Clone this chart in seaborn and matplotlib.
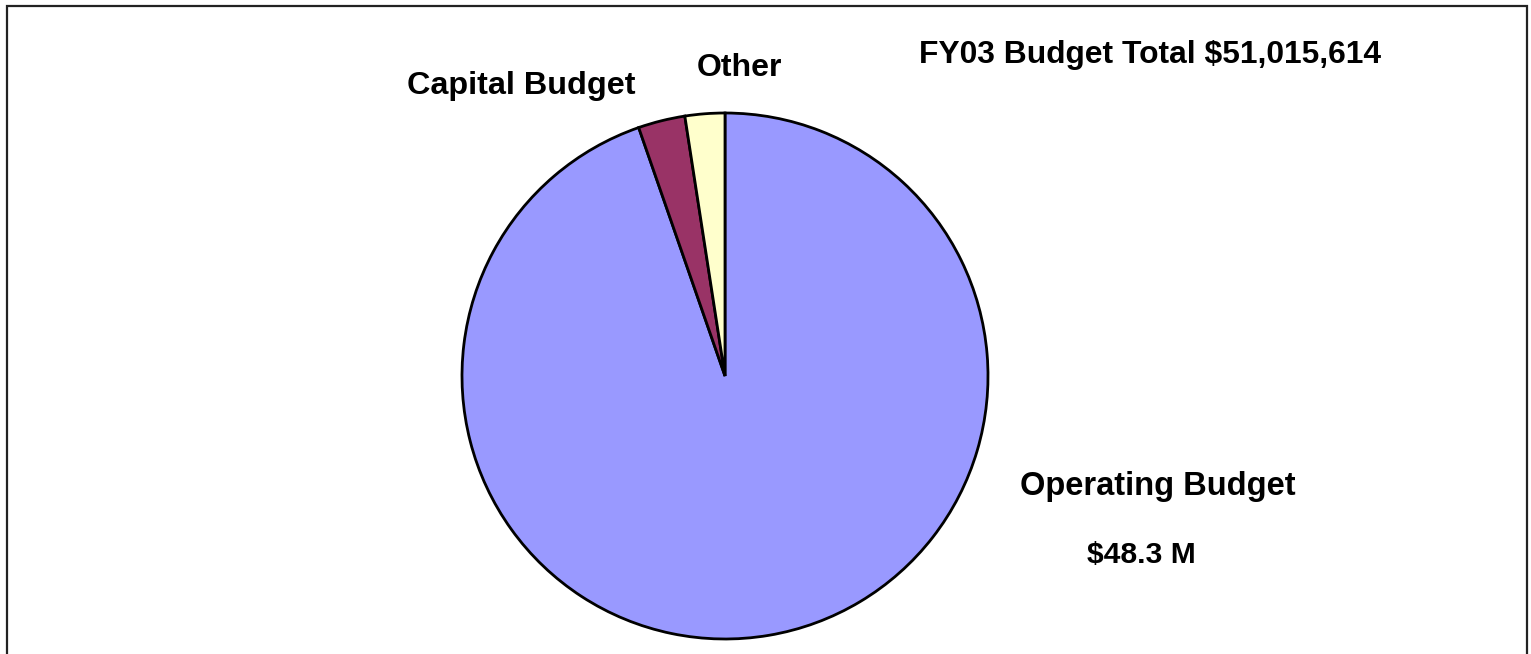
import matplotlib
matplotlib.use("Agg")
import matplotlib.pyplot as plt
from matplotlib.patches import Rectangle
import seaborn as sns

# Budget components, $ millions
categories = ["Operating Budget", "Capital Budget", "Other"]
values = [48.3, 1.47, 1.245]
colors = ["#9999FF", "#993366", "#FFFFCC"]
title_text = "FY03 Budget Total $51,015,614"
operating_amount = "$48.3 M"

sns.set_theme(style="white")
plt.rcParams["font.family"] = ["Liberation Sans", "DejaVu Sans"]

W, H = 1531, 654
fig = plt.figure(figsize=(W / 100, H / 100), dpi=100)
fig.patch.set_facecolor("white")
ax = fig.add_axes([0, 0, 1, 1])

ax.pie(values, colors=colors, startangle=90, counterclock=False,
       wedgeprops=dict(edgecolor="black", linewidth=2.0))

# pie centre at (725, 376) px, radius 263 px
cx, cy, r = 725, 376, 263
ax.set_xlim(-cx / r, (W - cx) / r)
ax.set_ylim(-(H - cy) / r, cy / r)
ax.set_aspect("auto")
ax.axis("off")


def put(text, x, y, size):
    fig.text(x / W, 1 - y / H, text, fontsize=size, fontweight="bold",
             ha="left", va="baseline", color="black")


put(categories[1], 407, 94, 23.3)
put(categories[2], 697, 76, 23)
put(title_text, 919, 63, 22.9)
put(categories[0], 1020, 495, 23.5)
put(operating_amount, 1087, 563, 21.7)

# outer frame
fig.patches.append(Rectangle((7 / W, -0.05), (1527 - 7) / W, 1.05 - 6 / H,
                             transform=fig.transFigure, fill=False,
                             edgecolor="#222222", linewidth=1.6))

fig.savefig("out.png", dpi=100, facecolor="white")
